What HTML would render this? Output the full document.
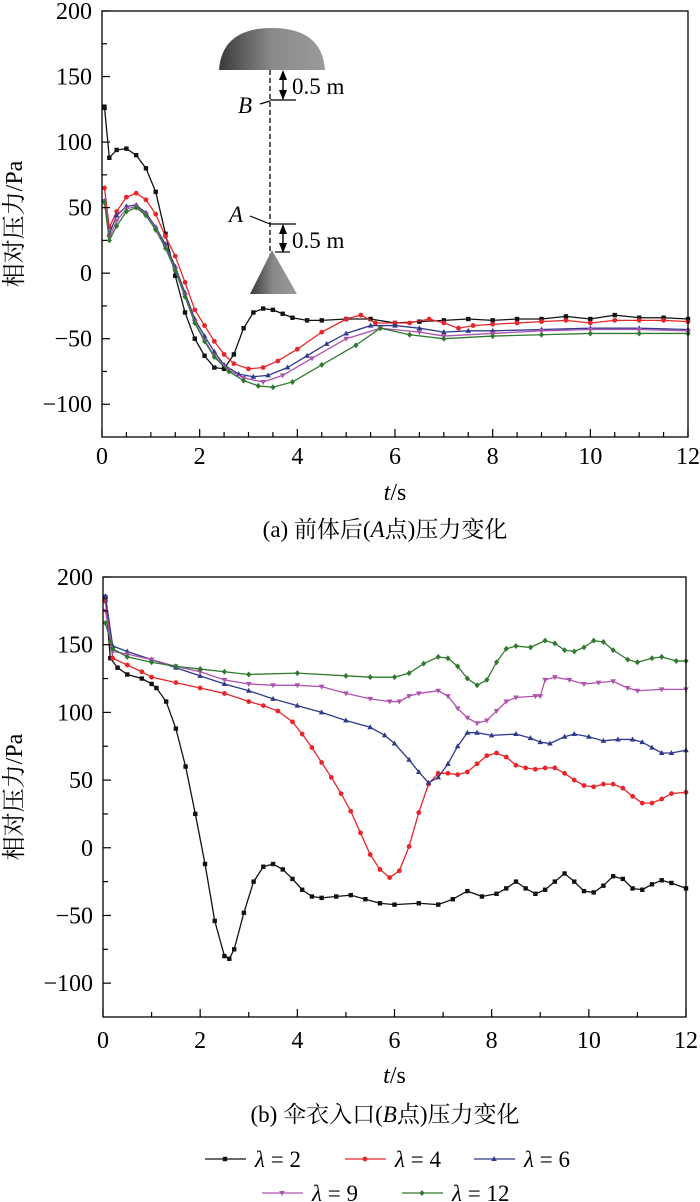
<!DOCTYPE html>
<html><head><meta charset="utf-8"><style>
body{margin:0;background:#fff;width:700px;height:1202px;overflow:hidden}
svg{display:block;font-family:"Liberation Serif","Noto Serif CJK SC",serif}
</style></head><body>
<svg id="chart" width="700" height="1202"></svg>
<script>
const categoriesLambda = ["λ = 2","λ = 4","λ = 6","λ = 9","λ = 12"];
const xTicks = [0,2,4,6,8,10,12];
const yTicks = [200,150,100,50,0,-50,-100];
// Panel (a): [t, value] pairs
const aL2 = [[0.05,127],[0.15,88],[0.3,94],[0.5,95],[0.7,90],[0.9,80],[1.1,62],[1.3,30],[1.5,-2],[1.7,-30],[1.9,-50],[2.1,-63],[2.3,-72],[2.5,-73],[2.7,-62],[2.9,-42],[3.1,-30],[3.3,-27],[3.5,-28],[3.7,-31],[3.9,-34],[4.2,-36],[4.5,-36],[5,-35],[5.5,-35],[6,-38],[6.5,-37],[7,-36],[7.5,-35],[8,-36],[8.5,-35],[9,-35],[9.5,-33],[10,-35],[10.5,-32],[11,-34],[11.5,-34],[12,-35]];
const aL4 = [[0.05,65],[0.15,35],[0.3,47],[0.5,58],[0.7,61],[0.9,56],[1.1,45],[1.3,28],[1.5,13],[1.7,-7],[1.9,-28],[2.1,-40],[2.3,-52],[2.5,-62],[2.7,-69],[3.0,-73],[3.3,-72],[3.6,-67],[4,-58],[4.5,-45],[5,-35],[5.3,-32],[5.6,-38],[6,-38],[6.3,-38],[6.7,-35],[7,-38],[7.3,-42],[7.6,-40],[8,-39],[8.5,-38],[9,-37],[9.5,-36],[10,-38],[10.5,-36],[11,-36],[11.5,-36],[12,-37]];
const aL6 = [[0.05,55],[0.15,30],[0.3,44],[0.5,51],[0.7,52],[0.9,46],[1.1,35],[1.3,22],[1.5,5],[1.7,-15],[1.9,-35],[2.1,-48],[2.3,-60],[2.5,-70],[2.8,-77],[3.1,-79],[3.4,-78],[3.8,-72],[4.2,-63],[4.6,-54],[5,-46],[5.5,-40],[6,-40],[6.5,-42],[7,-45],[7.5,-44],[8,-44],[9,-43],[10,-42],[11,-42],[12,-43]];
const aL9 = [[0.05,55],[0.15,27],[0.3,40],[0.5,49],[0.7,51],[0.9,45],[1.1,34],[1.3,20],[1.5,3],[1.7,-17],[1.9,-37],[2.1,-51],[2.3,-63],[2.6,-74],[2.9,-80],[3.3,-83],[3.7,-78],[4.3,-65],[5,-50],[5.7,-42],[6.5,-45],[7,-48],[8,-46],[9,-44],[10,-43],[11,-43],[12,-44]];
const aL12 = [[0.05,54],[0.15,25],[0.3,36],[0.5,47],[0.7,50],[0.9,44],[1.1,33],[1.3,19],[1.5,2],[1.7,-18],[1.9,-38],[2.1,-52],[2.3,-64],[2.6,-75],[2.9,-82],[3.2,-86],[3.5,-87],[3.9,-83],[4.5,-70],[5.2,-55],[5.7,-42],[6.3,-47],[7,-50],[8,-48],[9,-47],[10,-46],[11,-46],[12,-46]];
// Panel (b)
const bL2 = [[0.05,185],[0.15,140],[0.3,133],[0.5,128],[0.8,125],[1.0,121],[1.1,118],[1.3,108],[1.5,88],[1.7,60],[1.9,25],[2.1,-12],[2.3,-54],[2.5,-80],[2.6,-82],[2.7,-75],[2.9,-48],[3.1,-25],[3.3,-14],[3.5,-12],[3.7,-16],[3.9,-23],[4.1,-31],[4.3,-36],[4.5,-37],[4.8,-36],[5.1,-35],[5.4,-38],[5.7,-41],[6,-42],[6.5,-41],[6.9,-42],[7.2,-38],[7.5,-32],[7.8,-36],[8.1,-34],[8.3,-30],[8.5,-25],[8.7,-30],[8.9,-34],[9.1,-31],[9.3,-25],[9.5,-19],[9.7,-25],[9.9,-32],[10.1,-33],[10.3,-28],[10.5,-21],[10.7,-23],[10.9,-30],[11.1,-31],[11.3,-27],[11.5,-24],[11.7,-26],[12,-30]];
const bL4 = [[0.05,182],[0.2,140],[0.5,135],[0.8,130],[1,126],[1.5,122],[2,118],[2.5,114],[3,108],[3.3,105],[3.6,101],[3.9,93],[4.1,84],[4.3,74],[4.5,63],[4.7,52],[4.9,40],[5.1,27],[5.3,11],[5.5,-5],[5.7,-16],[5.9,-22],[6.1,-17],[6.3,1],[6.5,26],[6.7,47],[6.9,55],[7.1,55],[7.3,54],[7.5,56],[7.7,62],[7.9,68],[8.1,70],[8.3,67],[8.5,61],[8.7,59],[8.9,58],[9.1,59],[9.3,59],[9.5,55],[9.7,50],[9.9,46],[10.1,45],[10.3,47],[10.5,47],[10.7,44],[10.9,38],[11.1,33],[11.3,33],[11.5,36],[11.7,40],[12,41]];
const bL6 = [[0.05,186],[0.2,149],[0.5,145],[1,139],[1.5,133],[2,127],[2.5,121],[3,116],[3.5,110],[4,105],[4.5,100],[5,94],[5.5,89],[5.8,83],[6,77],[6.3,65],[6.5,56],[6.7,48],[6.9,52],[7.1,62],[7.3,75],[7.5,85],[7.7,85],[8,83],[8.5,84],[8.8,81],[9,78],[9.2,77],[9.5,82],[9.7,84],[10,82],[10.3,79],[10.6,80],[10.9,80],[11.1,78],[11.3,74],[11.5,70],[11.7,70],[12,72]];
const bL9 = [[0.05,175],[0.2,145],[0.5,143],[1,139],[1.5,134],[2,130],[2.5,124],[3,121],[3.5,120],[4,120],[4.5,119],[5,114],[5.5,110],[5.9,108],[6.1,108],[6.3,112],[6.5,114],[6.9,116],[7.1,112],[7.3,103],[7.5,96],[7.7,92],[7.9,94],[8.1,101],[8.3,108],[8.5,111],[8.9,112],[9.0,112],[9.1,124],[9.3,126],[9.6,124],[9.9,121],[10.2,122],[10.5,123],[10.8,118],[11,116],[11.5,117],[12,117]];
const bL12 = [[0.05,166],[0.2,147],[0.5,141],[1,137],[1.5,134],[2,132],[2.5,130],[3,128],[4,129],[5,127],[5.5,126],[6,126],[6.3,129],[6.6,136],[6.9,141],[7.1,140],[7.3,134],[7.5,125],[7.7,120],[7.9,124],[8.1,137],[8.3,147],[8.5,149],[8.8,148],[9.1,153],[9.3,151],[9.5,146],[9.7,145],[9.9,148],[10.1,153],[10.3,152],[10.5,146],[10.8,139],[11,137],[11.3,140],[11.5,141],[11.8,138],[12,138]];

const colors=["#111","#e8262a","#2e3a8c","#b050b0","#2f7a2f"];
const markers=["square","circle","up","down","diamond"];
const NS="http://www.w3.org/2000/svg";
const svg=document.getElementById('chart');
function mk(tag,attrs,parent){const e=document.createElementNS(NS,tag);for(const k in attrs)e.setAttribute(k,attrs[k]);(parent||svg).appendChild(e);return e;}
function marker(g,x,y,type,c){
  let e;
  if(type==="square")e=mk('rect',{x:x-2.2,y:y-2.2,width:4.4,height:4.4,fill:c},g);
  else if(type==="circle")e=mk('circle',{cx:x,cy:y,r:2.4,fill:c},g);
  else if(type==="up")e=mk('polygon',{points:`${x},${y-3} ${x-2.8},${y+2} ${x+2.8},${y+2}`,fill:c},g);
  else if(type==="down")e=mk('polygon',{points:`${x},${y+3} ${x-2.8},${y-2} ${x+2.8},${y-2}`,fill:c},g);
  else e=mk('polygon',{points:`${x},${y-3} ${x+2.6},${y} ${x},${y+3} ${x-2.6},${y}`,fill:c},g);
  
  
}
function panel(name,L,R,T,B,series,minorStep,tickOff,titleY){
  const ymin=-125,ymax=200;
  const sx=t=>L+(t/12)*(R-L);
  const sy=v=>T+(ymax-v)/(ymax-ymin)*(B-T);
  const g=mk('g',{});
  
  
  series.forEach((s,i)=>{
    const sg=mk('g',{},g);
    
    
    const pl=mk('polyline',{points:s.map(p=>sx(p[0])+','+sy(p[1])).join(' '),fill:'none',stroke:colors[i],'stroke-width':1.3},sg);
    
    
    s.forEach(p=>marker(sg,sx(p[0]),sy(p[1]),markers[i],colors[i]));
  });
  const fr=mk('rect',{x:L,y:T,width:R-L,height:B-T,fill:'none',stroke:'#000','stroke-width':1.3},g);
  
  
  for(let t=0;t<=12.001;t+=minorStep){
    const len=(Math.abs(t%2)<0.01)?8:5;
    mk('line',{x1:sx(t),x2:sx(t),y1:B,y2:B-len,stroke:'#000','stroke-width':1.2},g);
  }
  xTicks.forEach(t=>{
    const tx=mk('text',{x:sx(t),y:B+tickOff,'text-anchor':'middle','font-size':24},g);
    tx.textContent=t;
    
    
  });
  for(let v=-100;v<=200;v+=25){
    const len=(v%50===0)?8:5;
    mk('line',{x1:L,x2:L+len,y1:sy(v),y2:sy(v),stroke:'#000','stroke-width':1.2},g);
  }
  yTicks.forEach(v=>{
    const tx=mk('text',{x:L-10,y:sy(v)+8,'text-anchor':'end','font-size':24},g);
    tx.textContent=v<0?'\u2212'+(-v):v;
    
    
  });
  const xt=mk('text',{x:(L+R)/2,y:titleY,'text-anchor':'middle','font-size':24},g);
  xt.innerHTML='<tspan font-style="italic">t</tspan>/s';
  
  
  const yt=mk('text',{x:0,y:0,'text-anchor':'middle','font-size':24,transform:`translate(22,${(T+B)/2}) rotate(-90)`},g);
  yt.textContent='相对压力/Pa';
  
  
  return {sx,sy};
}
panel('panel-a-chart',102,688,11,437,[aL2,aL4,aL6,aL9,aL12],0.5,27,500);
panel('panel-b-chart',103,686,577,1017,[bL2,bL4,bL6,bL9,bL12],1,31,1083);

// captions
const cap=[[385,537,'(a) 前体后(<tspan font-style="italic">A</tspan>点)压力变化','caption-a'],[385,1122,'(b) 伞衣入口(<tspan font-style="italic">B</tspan>点)压力变化','caption-b']];
cap.forEach(c=>{const t=mk('text',{x:c[0],y:c[1],'text-anchor':'middle','font-size':23});t.innerHTML=c[2];

});

// legend
const legPos=[[205,1159],[345,1159],[474,1159],[262,1193],[402,1193]];
categoriesLambda.forEach((lab,i)=>{
  const g=mk('g',{});
  
  
  const [x,y]=legPos[i];
  mk('line',{x1:x,x2:x+41,y1:y,y2:y,stroke:colors[i],'stroke-width':1.3},g);
  marker(g,x+20,y,markers[i],colors[i]);
  const t=mk('text',{x:x+50,y:y+8,'font-size':23},g);
  t.innerHTML='<tspan font-style="italic">λ</tspan> = '+lab.split('= ')[1];
});
</script>
<svg style="position:absolute;left:0;top:0" width="700" height="300">
  <defs><linearGradient id="gr" x1="0" x2="1"><stop offset="0" stop-color="#3a3a3a"/><stop offset="0.5" stop-color="#8a8a8a"/><stop offset="1" stop-color="#9a9a9a"/></linearGradient></defs>
  <path d="M219,70 Q222,28 272,28 Q322,28 325,70 Z" fill="url(#gr)"/>
  <line x1="270" y1="70" x2="270" y2="255" stroke="#000" stroke-dasharray="5,3" stroke-width="1.3"/>
  <polygon points="272,250 250,294 297,294" fill="url(#gr)"/>
  <line x1="270" y1="100" x2="296" y2="100" stroke="#000" stroke-width="1.3"/>
  <line x1="260" y1="104" x2="270" y2="101" stroke="#000" stroke-width="1.2"/>
  <line x1="270" y1="224" x2="296" y2="224" stroke="#000" stroke-width="1.3"/>
  <line x1="250" y1="216" x2="270" y2="224" stroke="#000" stroke-width="1.2"/>
  <line x1="283" y1="72" x2="283" y2="99" stroke="#000" stroke-width="1.4"/>
  <polygon points="283,70 279,80 287,80" fill="#000"/><polygon points="283,100 279,90 287,90" fill="#000"/>
  <line x1="283" y1="225" x2="283" y2="252" stroke="#000" stroke-width="1.4"/>
  <polygon points="283,224 279,234 287,234" fill="#000"/><polygon points="283,253 279,243 287,243" fill="#000"/>
  <line x1="275" y1="252" x2="290" y2="252" stroke="#000" stroke-width="1.2"/>
  <text x="292" y="94" font-size="23" font-family="Liberation Serif,serif">0.5 m</text>
  <text x="292" y="248" font-size="23" font-family="Liberation Serif,serif">0.5 m</text>
  <text x="238" y="113" font-size="23" font-style="italic" font-family="Liberation Serif,serif">B</text>
  <text x="229" y="222" font-size="23" font-style="italic" font-family="Liberation Serif,serif">A</text>
</svg>
</body></html>
